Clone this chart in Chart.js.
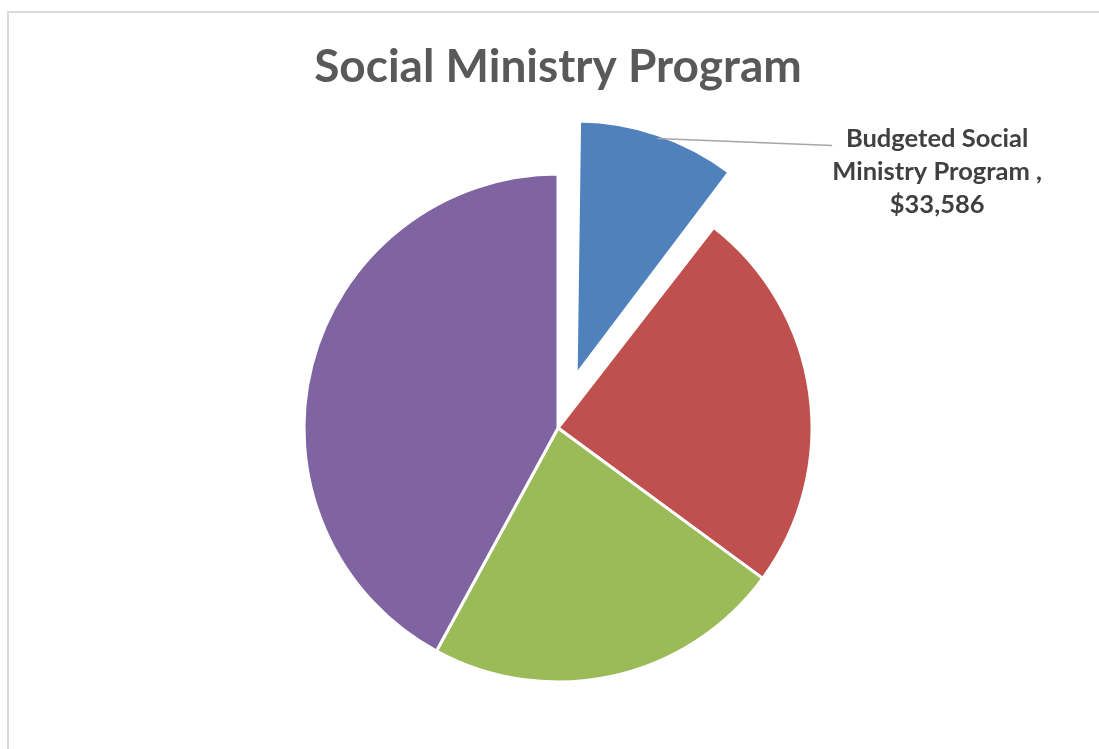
<!DOCTYPE html>
<html>
<head>
<meta charset="utf-8">
<script src="https://cdn.jsdelivr.net/npm/chart.js@4"></script>
<style>
  html, body { margin: 0; padding: 0; background: #fff; }
  #wrap { position: relative; width: 1099px; height: 749px; overflow: hidden; }
  #frame {
    position: absolute; left: 7px; top: 11px; width: 1200px; height: 800px;
    border: 2px solid #d9d9d9; box-sizing: border-box;
  }
  #chart { position: absolute; left: 0; top: 0; }
</style>
</head>
<body>
<div id="wrap">
  <div id="frame"></div>
  <canvas id="chart" width="1099" height="749"></canvas>
</div>
<script>
  // Budget split
  const categories = [
    "Budgeted Social Ministry Program ",
    "Program B",
    "Program C",
    "Program D",
  ];
  const amounts = [33586, 78600, 73100, 134500];
  const sliceColors = ["#4f81bd", "#c0504d", "#9bbb59", "#8064a2"];
  // chart.js moves an arc by offset / 4 px
  const explode = [224, 0, 0, 0];
  const pieRadius = 254;

  function money(v) {
    return "$" + v.toLocaleString("en-US");
  }

  // chart.js also grows an offset arc's radius by offset*(1 - sin(circumference));
  // take that back off so the pulled-out slice keeps the pie radius
  const keepRadius = {
    id: "keepRadius",
    afterDatasetUpdate(chart) {
      chart.getDatasetMeta(0).data.forEach((arc, i) => {
        const off = explode[i] / 4;
        if (!off) return;
        const circ = arc.endAngle - arc.startAngle;
        arc.outerRadius = pieRadius - off * (1 - Math.sin(Math.min(Math.PI, circ)));
      });
    },
  };

  // Leader line + label for the exploded slice
  const sliceLabel = {
    id: "sliceLabel",
    afterDatasetsDraw(chart) {
      const ctx = chart.ctx;
      const arc = chart.getDatasetMeta(0).data[0];
      const mid = (arc.startAngle + arc.endAngle) / 2;
      const off = explode[0] / 4;
      const r = pieRadius - 4;
      const sx = arc.x + Math.cos(mid) * (off + r);
      const sy = arc.y + Math.sin(mid) * (off + r);
      const ex = sx + 175;
      const ey = sy + 7;

      ctx.save();
      ctx.strokeStyle = "#a6a6a6";
      ctx.lineWidth = 1.5;
      ctx.beginPath();
      ctx.moveTo(sx, sy);
      ctx.lineTo(ex, ey);
      ctx.stroke();

      ctx.fillStyle = "#404040";
      ctx.font = "bold 25.5px Lato";
      ctx.textAlign = "center";
      ctx.textBaseline = "alphabetic";
      const cx = ex + 105;
      const words = categories[0].split(" ");
      const lines = [words[0] + " " + words[1], words[2] + " " + words[3] + " ,", money(amounts[0])];
      lines.forEach((t, i) => ctx.fillText(t, cx, ey + 1 + i * 33));
      ctx.restore();
    },
  };

  new Chart(document.getElementById("chart"), {
    type: "pie",
    data: {
      labels: categories,
      datasets: [
        {
          data: amounts,
          backgroundColor: sliceColors,
          borderColor: "#ffffff",
          borderWidth: 3,
          offset: explode,
        },
      ],
    },
    options: {
      responsive: false,
      animation: false,
      radius: pieRadius,
      layout: { padding: { left: 17, right: 0, top: 0, bottom: 0 } },
      plugins: {
        legend: { display: false },
        tooltip: { enabled: false },
        title: {
          display: true,
          text: "Social Ministry Program",
          color: "#595959",
          font: { family: "Lato", size: 46, weight: "bold", lineHeight: 1.2 },
          padding: { top: 40, bottom: 11.8 },
        },
      },
    },
    plugins: [keepRadius, sliceLabel],
  });
</script>
</body>
</html>
